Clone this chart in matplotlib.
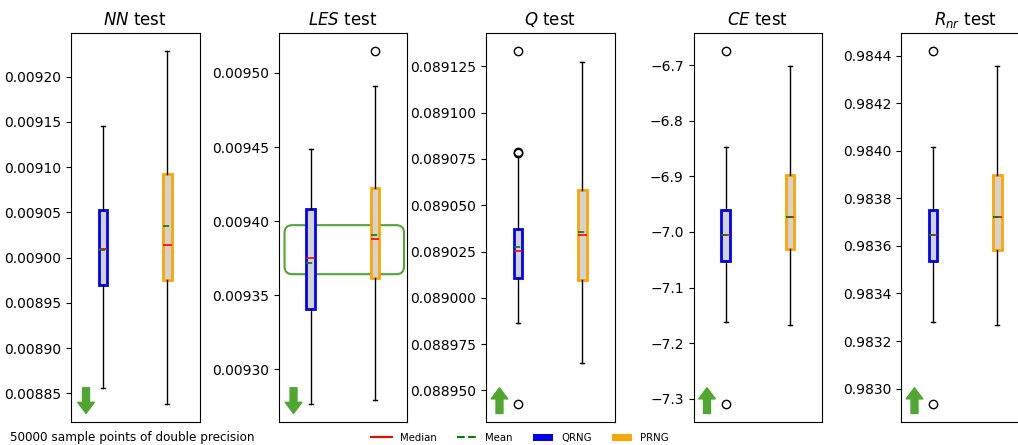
"""
Box plots of five statistical test scores, QRNG vs PRNG.
"""

import matplotlib
matplotlib.use("Agg")
import matplotlib.pyplot as plt
from matplotlib.lines import Line2D
from matplotlib.patches import Patch, FancyBboxPatch

# --- Data (QRNG, PRNG per test) ---

titles = ["$NN$ test", "$LES$ test", "$Q$ test", "$CE$ test", "$R_{nr}$ test"]
generators = ["QRNG", "PRNG"]

medians = [
    [0.009010, 0.0090136],
    [0.0093751, 0.0093879],
    [0.0890252, 0.0890340],
    [-7.0062, -6.9728],
    [0.983644, 0.983721],
]
means = [
    [0.0090085, 0.0090345],
    [0.0093717, 0.0093908],
    [0.0890272, 0.0890358],
    [-7.0050, -6.9730],
    [0.983646, 0.983722],
]
q1 = [
    [0.008970, 0.0089757],
    [0.0093405, 0.0093616],
    [0.0890109, 0.0890098],
    [-7.0517, -7.0313],
    [0.9835375, 0.983584],
]
q3 = [
    [0.0090522, 0.009092],
    [0.0094079, 0.0094225],
    [0.0890374, 0.0890584],
    [-6.9608, -6.8974],
    [0.98375, 0.983898],
]
whis_lo = [
    [0.0088555, 0.0088379],
    [0.0092765, 0.0092792],
    [0.0889865, 0.0889650],
    [-7.1612, -7.1672],
    [0.983282, 0.983268],
]
whis_hi = [
    [0.0091456, 0.0092287],
    [0.0094490, 0.0094914],
    [0.0890765, 0.0891275],
    [-6.8472, -6.7018],
    [0.9840155, 0.9843568],
]
fliers = [
    [[], []],
    [[], [0.009515]],
    [[0.0891335, 0.0890785, 0.0890790, 0.0889425], []],
    [[-6.6736, -7.3102], []],
    [[0.984421, 0.982934], []],
]

# arrow direction per test: -1 means lower is better, +1 higher
arrow_dir = [-1, -1, 1, 1, 1]

box_colors = ["blue", "orange"]
arrow_green = "#4ea72e"

# --- Figure ---

fig = plt.figure(figsize=(10.18, 4.45), dpi=100)

for i, title in enumerate(titles):
    ax = fig.add_axes([(71 + i * 207.5) / 1018, 23 / 445, 128.5 / 1018, 389 / 445])

    stats = []
    for j, name in enumerate(generators):
        stats.append(dict(label=name, med=medians[i][j], mean=means[i][j],
                          q1=q1[i][j], q3=q3[i][j],
                          whislo=whis_lo[i][j], whishi=whis_hi[i][j],
                          fliers=fliers[i][j]))

    bp = ax.bxp(stats, positions=[1, 2], widths=0.13, patch_artist=True,
                showmeans=True, meanline=True,
                boxprops=dict(facecolor="lightgray", linewidth=2),
                medianprops=dict(color="red", linewidth=1.2),
                meanprops=dict(color="green", linestyle="--", linewidth=1.2),
                whiskerprops=dict(color="black", linewidth=1),
                capprops=dict(color="black", linewidth=1),
                flierprops=dict(marker="o", markerfacecolor="none",
                                markeredgecolor="black", markersize=6))
    for box, c in zip(bp["boxes"], box_colors):
        box.set_edgecolor(c)

    ax.set_xlim(0.5, 2.5)
    ax.set_xticks([])
    ax.ticklabel_format(axis="y", useOffset=False, style="plain")
    ax.set_title(title, fontsize=12)

    # green arrow in the lower left corner
    x_arr = 0.117 if i < 2 else 0.105
    if arrow_dir[i] < 0:
        tail, tip = 0.088, 0.022
    else:
        tail, tip = 0.022, 0.088
    ax.annotate("", xy=(x_arr, tip), xytext=(x_arr, tail), xycoords="axes fraction",
                arrowprops=dict(facecolor=arrow_green, edgecolor=arrow_green,
                                width=5, headwidth=12, headlength=8, shrink=0))

    if i == 1:
        # highlight where the two medians overlap
        hl = FancyBboxPatch((0.047, 0.380), 0.93, 0.126, transform=ax.transAxes,
                            boxstyle="round,pad=0,rounding_size=0.06",
                            mutation_aspect=128.5 / 389,
                            facecolor="none", edgecolor=arrow_green, linewidth=1.5,
                            clip_on=False)
        ax.add_patch(hl)

# --- Legend and note ---

handles = [
    Line2D([], [], color="red", linewidth=1.5, label="Median"),
    Line2D([], [], color="green", linestyle="--", linewidth=1.5, label="Mean"),
    Patch(facecolor="blue", label="QRNG"),
    Patch(facecolor="orange", label="PRNG"),
]
fig.legend(handles=handles, loc="center", bbox_to_anchor=(0.511, 0.016),
           ncol=4, frameon=False, fontsize=7.3)

fig.text(0.01, 0.016, "50000 sample points of double precision",
         va="center", ha="left", fontsize=8.65)

fig.savefig("out.png", dpi=100)
